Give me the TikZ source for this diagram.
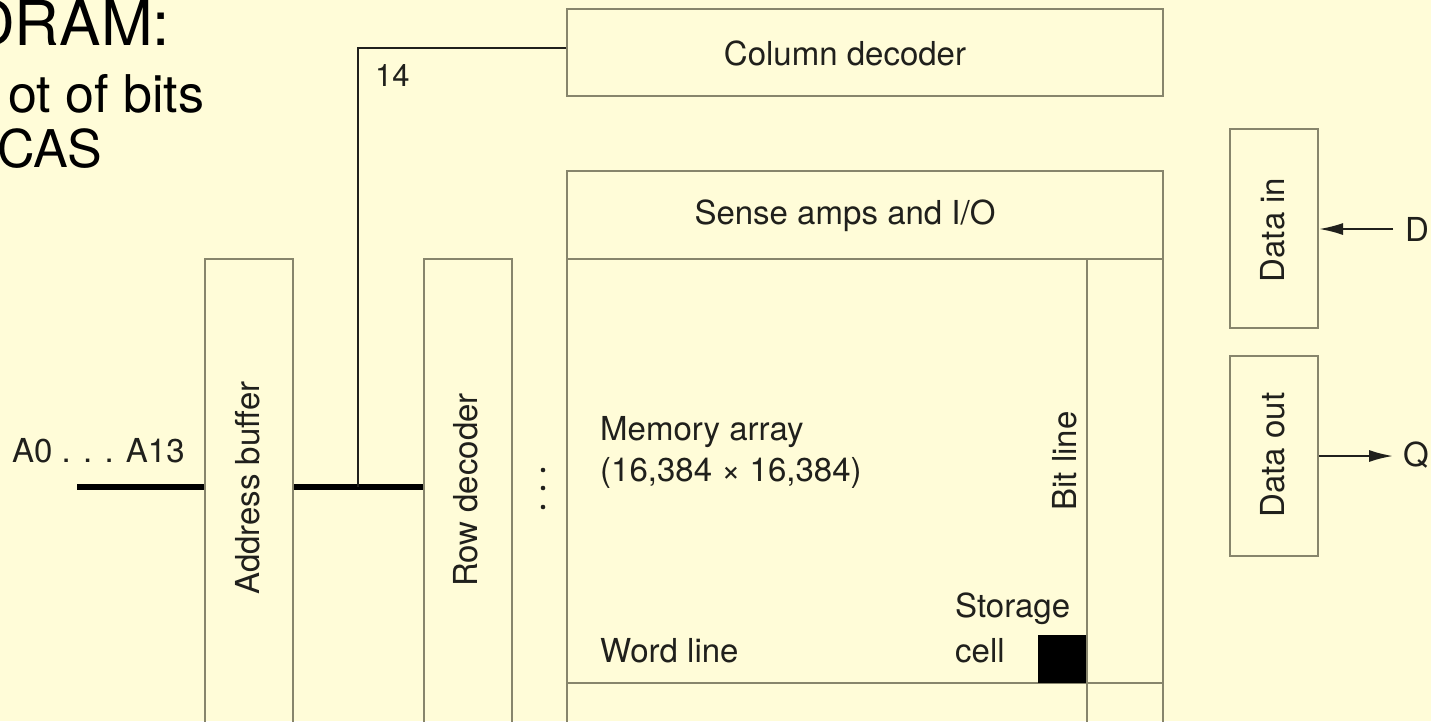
\documentclass[tikz,border=0pt]{standalone}
\usepackage{fontspec}
\setmainfont{TeX Gyre Heros}
\usepackage{tikz}
\usetikzlibrary{positioning, arrows.meta}

\definecolor{slidebg}{RGB}{255,252,216}
\definecolor{boxline}{RGB}{135,133,108}
\definecolor{labeltext}{RGB}{32,32,28}

\begin{document}
\begin{tikzpicture}[x=1pt, y=-1pt,
            % --- Styles for the blocks ---
            box/.style={
                draw=boxline, line width=2pt, rectangle, inner sep=0pt
            },
            lbl/.style={text=labeltext, inner sep=0pt, font=\fontsize{33}{40}\selectfont},
            vlbl/.style={lbl, rotate=90},
            head/.style={inner sep=0pt, anchor=base west, font=\fontsize{52}{60}\selectfont},
            bus/.style={line width=5.5pt},
            wire/.style={draw=labeltext, line width=2pt},
            arr/.style={wire, -{Latex[length=24pt, width=12pt]}}
        ]

        % --- Slide frame ---
        \path[use as bounding box] (0,0) rectangle (1431,721);
        \fill[slidebg] (0,0) rectangle (1431,721);
        \clip (0,0) rectangle (1431,721);

        % --- Slide text, cut at the left edge ---
        \node[head, font=\fontsize{62}{68}\selectfont] (title) at (-30,45) {DRAM:};
        \node[head] (lineone) at (8,112) {ot of bits};
        \node[head] (linetwo) at (-3,167) {CAS};

        % --- Blocks ---
        \node[box, anchor=north west, minimum width=596pt, minimum height=87pt] (coldec) at (566,8) {};
        \node[box, anchor=north west, minimum width=596pt, minimum height=88pt] (sense) at (566,170) {};
        \node[box, anchor=north west, minimum width=596pt, minimum height=502pt] (memarr) at (566,258) {};
        \node[box, anchor=north west, minimum width=88pt, minimum height=500pt] (addrbuf) at (204,258) {};
        \node[box, anchor=north west, minimum width=88pt, minimum height=500pt] (rowdec) at (423,258) {};
        \node[box, anchor=north west, minimum width=88pt, minimum height=199pt] (datain) at (1229,128) {};
        \node[box, minimum width=88pt, minimum height=200pt, below=26pt of datain] (dataout) {};

        % --- Word line, bit line and storage cell ---
        \draw[boxline, line width=2pt] (566,683) -- (1162,683);
        \draw[boxline, line width=2pt] (1087,258) -- (1087,760);
        \node[fill=black, inner sep=0pt, minimum size=48pt, anchor=south east] (cell) at (1086,683) {};

        % --- Block labels ---
        \node[lbl] at (845,53) {Column decoder};
        \node[lbl] at (845,216) {Sense amps and I/O};
        \node[vlbl] at (248,488) {Address buffer};
        \node[vlbl] at (466,490) {Row decoder};
        \node[vlbl] at (1273,230) {Data in};
        \node[vlbl] at (1273,455) {Data out};
        \node[vlbl] at (1065,461) {Bit line};
        \node[lbl, anchor=base west] (memlbl) at (600,440) {Memory array};
        \node[lbl, anchor=base west] at ([yshift=-41pt]memlbl.base west) {(16,384 × 16,384)};
        \node[lbl, anchor=base west] at (600,662) {Word line};
        \node[lbl, anchor=base west] (storelbl) at (955,617) {Storage};
        \node[lbl, anchor=base west] at (955,662) {cell};

        % --- Row ellipsis ---
        \foreach \ypos in {470,488,507} {
            \fill[labeltext] (543,\ypos) circle (2.3);
        }

        % --- Address bus ---
        \node[lbl, anchor=base west] (addrlbl) at (12,462) {A0 . . . A13};
        \coordinate (busin) at (77,487);
        \coordinate (tap) at (358,487);
        \draw[bus] (busin) -- (busin -| addrbuf.west);
        \draw[bus] (busin -| addrbuf.east) -- (busin -| rowdec.west);
        \draw[wire] (tap) |- ([yshift=4.5pt]coldec.west);
        \node[lbl, anchor=base west, font=\fontsize{31}{36}\selectfont] (buswidth) at (375,86) {14};

        % --- Data pins ---
        \node[lbl, anchor=west] (din) at (1405,229) {D};
        \node[lbl, anchor=west] (qout) at (1403,455) {Q};
        \coordinate (qtip) at ([xshift=-10pt]qout.west);
        \draw[arr] ([xshift=-12pt]din.west) -- (din.west -| datain.east);
        \draw[arr] (dataout.east) -- (dataout.east -| qtip);

        \end{tikzpicture}
\end{document}
